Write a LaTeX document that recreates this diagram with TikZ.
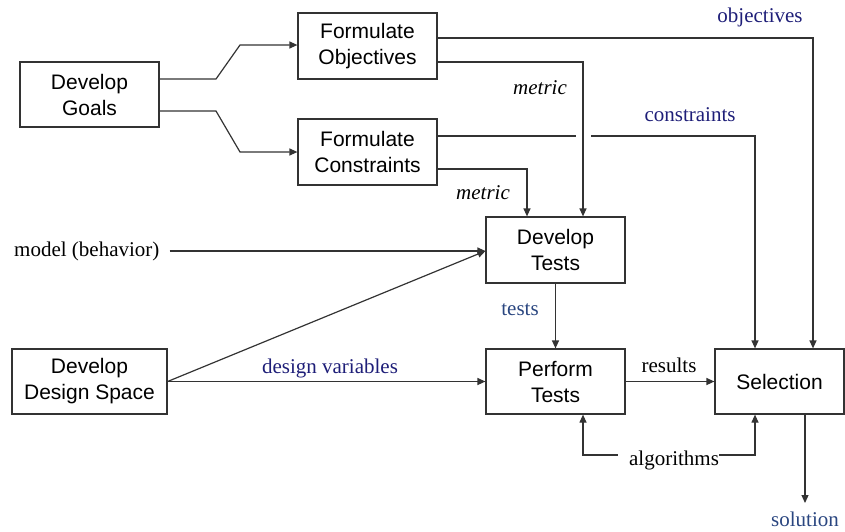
\documentclass[tikz,border=0pt]{standalone}
\usepackage{fontspec}
\setmainfont{Liberation Serif}
\setsansfont{Liberation Sans}
\usetikzlibrary{arrows.meta}
\definecolor{navy}{HTML}{1E1E78}
\definecolor{slate}{HTML}{2A4680}
\definecolor{ink}{HTML}{333333}
\tikzset{
  box/.style={draw=ink, line width=1.2pt, fill=white, inner sep=0pt, align=center,
    font=\sffamily\fontsize{21}{26}\selectfont},
  lbl/.style={inner sep=0pt, font=\fontsize{21}{26}\selectfont},
  wire/.style={draw=ink, line width=1.2pt},
  arr/.style={wire, -{Triangle[length=8pt,width=7pt]}}
}
\begin{document}
\begin{tikzpicture}[x=1pt,y=-1pt]
\useasboundingbox (0,0) rectangle (845,531);

% process boxes
\node[box, minimum width=139pt, minimum height=65pt] (goals) at (89.5,94.5) {Develop\\Goals};
\node[box, minimum width=139pt, minimum height=66pt] (fobj) at (367.5,46) {Formulate\\Objectives};
\node[box, minimum width=139pt, minimum height=66pt] (fcon) at (367.5,152) {Formulate\\Constraints};
\node[box, minimum width=139pt, minimum height=66pt] (dtests) at (555.5,250) {Develop\\Tests};
\node[box, minimum width=139pt, minimum height=65pt] (ptests) at (555.5,381.5) {Perform\\Tests};
\node[box, minimum width=129pt, minimum height=65pt] (sel) at (779.5,381.5) {Selection};
\node[box, minimum width=155pt, minimum height=65pt] (dspace) at (89.5,381.5) {Develop\\Design Space};

% free-standing texts
\node[lbl, anchor=west] (model) at (14,251) {model (behavior)};
\node[lbl] (alg) at (674,460) {algorithms};
\node[lbl, text=slate] (sol) at (805,519) {solution};

% edge labels
\node[lbl, text=navy] (lobj) at (760,17) {objectives};
\node[lbl, font=\itshape\fontsize{21}{26}\selectfont] (lmet1) at (540,88) {metric};
\node[lbl, text=navy] (lcon) at (690,115) {constraints};
\node[lbl, font=\itshape\fontsize{21}{26}\selectfont] (lmet2) at (483,193) {metric};
\node[lbl, text=slate] (ltests) at (520,310) {tests};
\node[lbl, text=navy] (ldv) at (330,368) {design variables};
\node[lbl] (lres) at (669,365) {results};

% goals split into objectives and constraints
\draw[arr] (goals.east |- 0,79) -- (216,79) -- (240,45) -- (fobj.west |- 0,45);
\draw[arr] (goals.east |- 0,111) -- (216,111) -- (240,152) -- (fcon.west |- 0,152);

% objectives and constraints feed selection and test development
\draw[arr] (fobj.east |- 0,38) -- (813,38) -- (813,0 |- sel.north);
\draw[arr] (fobj.east |- 0,62) -- (583,62) -- (583,0 |- dtests.north);
\draw[wire] (fcon.east |- 0,136) -- (576,136);
\draw[arr] (591,136) -- (755,136) -- (755,0 |- sel.north);
\draw[arr] (fcon.east |- 0,169) -- (527,169) -- (527,0 |- dtests.north);

% model and design space
\draw[arr] (model.east) ++(10,0) -- (dtests.west |- 0,251);
\draw[arr] (dspace.east) -- (dtests.west |- 0,251);
\draw[arr] (dspace.east) -- (ptests.west);

% tests, results, algorithms, solution
\draw[arr] (dtests.south) -- (ptests.north);
\draw[arr] (ptests.east) -- (sel.west);
\draw[arr] (alg.west |- 0,455) ++(-11,0) -- (583,455) -- (583,0 |- ptests.south);
\draw[arr] (alg.east |- 0,455) -- (755,455) -- (755,0 |- sel.south);
\draw[arr] (805,0 |- sel.south) -- (805,503);
\end{tikzpicture}
\end{document}
